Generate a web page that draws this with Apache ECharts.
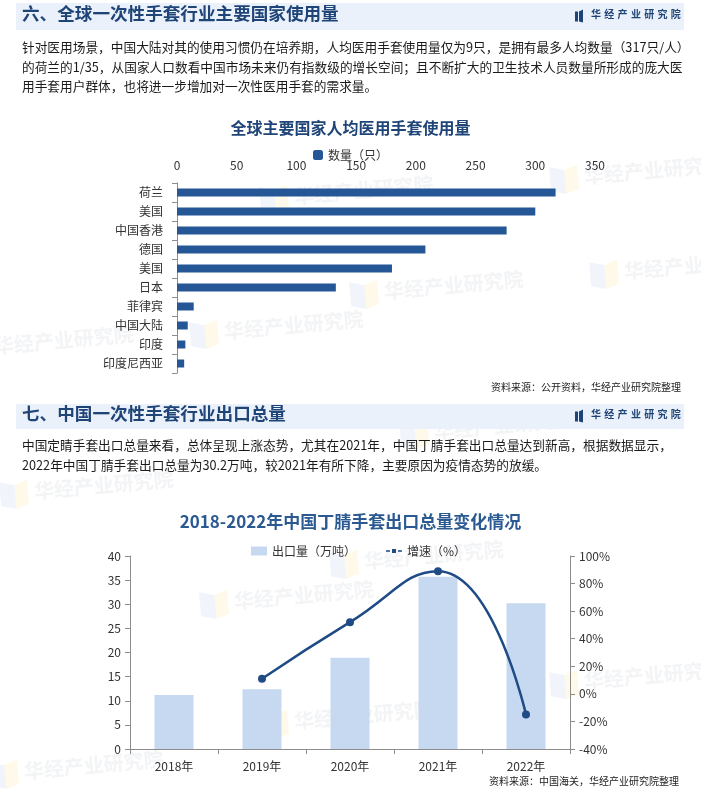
<!DOCTYPE html>
<html>
<head>
<meta charset="utf-8">
<title>手套行业</title>
<script src="https://cdn.jsdelivr.net/npm/echarts@6/dist/echarts.min.js"></script>
<style>
  html, body { margin: 0; padding: 0; background: #fff; }
  #main { width: 701px; height: 790px; }
</style>
</head>
<body>
<div id="main"></div>
<script type="text/javascript">
// 图一：人均医用手套使用量
var countryList = ['荷兰', '美国', '中国香港', '德国', '美国', '日本', '菲律宾', '中国大陆', '印度', '印度尼西亚'];
var gloveNum = [317, 300, 276, 208, 180, 133, 14, 9, 7, 6];

// 图二：丁腈手套出口
var yearList = ['2018年', '2019年', '2020年', '2021年', '2022年'];
var exportVol = [11.2, 12.4, 18.9, 35.7, 30.2];
var growthRate = [null, 11, 52, 89, -15];

var FONT = '"Noto Sans CJK SC", "Noto Sans", sans-serif';
var dark = '#1F4478';
var barColor = '#255696';
var lightBar = '#C6D9F0';
var lineColor = '#1F4B86';
var axisGray = '#8c8c8c';

var para1 = [
  '针对医用场景，中国大陆对其的使用习惯仍在培养期，人均医用手套使用量仅为9只，是拥有最多人均数量（317只/人）',
  '的荷兰的1/35，从国家人口数看中国市场未来仍有指数级的增长空间；且不断扩大的卫生技术人员数量所形成的庞大医',
  '用手套用户群体，也将进一步增加对一次性医用手套的需求量。'
];
var para2 = [
  '中国定睛手套出口总量来看，总体呈现上涨态势，尤其在2021年，中国丁腈手套出口总量达到新高，根据数据显示，',
  '2022年中国丁腈手套出口总量为30.2万吨，较2021年有所下降，主要原因为疫情态势的放缓。'
];

var myChart = echarts.init(document.getElementById('main'));

// 标题栏
function headerBar(y, h, txt) {
  var els = [];
  els.push({ type: 'rect', shape: { x: 16, y: y, width: 668, height: h }, style: { fill: '#EBF1FA' }, z: 1 });
  els.push({ type: 'text', left: 22, top: y + h / 2 - 12, style: { text: txt, font: 'bold 17.6px ' + FONT, fill: dark }, z: 2 });
  // logo
  els.push({ type: 'rect', shape: { x: 575, y: y + h / 2 - 5, width: 3, height: 10 }, style: { fill: dark }, z: 2 });
  els.push({ type: 'polygon', shape: { points: [[579, y + h / 2 - 5], [583, y + h / 2 - 7], [583, y + h / 2 + 6], [579, y + h / 2 + 5]] }, style: { fill: dark }, z: 2 });
  var logo = ['华', '经', '产', '业', '研', '究', '院'];
  for (var i = 0; i < logo.length; i++) {
    els.push({ type: 'text', left: 591 + i * 13.3, top: y + h / 2 - 7, style: { text: logo[i], font: 'bold 10px ' + FONT, fill: dark }, z: 2 });
  }
  return els;
}

// 段落
function paragraph(lines, y0, gap) {
  var els = [];
  for (var i = 0; i < lines.length; i++) {
    els.push({ type: 'text', left: 22, top: y0 + i * gap, style: { text: lines[i], font: '12.7px ' + FONT, fill: '#1a1a1a' }, z: 2 });
  }
  return els;
}

// 水印
var wmPos = [[330, 195], [620, 175], [260, 330], [420, 290], [30, 345], [660, 270], [470, 430], [70, 490],
  [400, 560], [270, 600], [620, 680], [330, 720], [60, 770]];
var wm = [];
for (var w = 0; w < wmPos.length; w++) {
  wm.push({
    type: 'group', x: wmPos[w][0], y: wmPos[w][1], rotation: 0.09, z: 0,
    children: [
      { type: 'polygon', shape: { points: [[-70, -14], [-55, -10], [-55, 14], [-70, 10]] }, style: { fill: '#dbe6f5', opacity: 0.4 } },
      { type: 'polygon', shape: { points: [[-55, -10], [-42, -14], [-42, 10], [-55, 14]] }, style: { fill: '#fdf1c8', opacity: 0.4 } },
      { type: 'text', x: -36, y: -12, style: { text: '华经产业研究院', font: 'bold 20px ' + FONT, fill: '#e8eaee', opacity: 0.5 } }
    ]
  });
}

var graphics = [].concat(
  wm,
  headerBar(3, 27, '六、全球一次性手套行业主要国家使用量'),
  paragraph(para1, 41, 19.5),
  headerBar(404, 25, '七、中国一次性手套行业出口总量'),
  paragraph(para2, 439, 19.5),
  [
    { type: 'text', right: 20, top: 382, style: { text: '资料来源：公开资料，华经产业研究院整理', font: '10px ' + FONT, fill: '#222' }, z: 2 },
    { type: 'text', right: 22, top: 776, style: { text: '资料来源：中国海关，华经产业研究院整理', font: '10px ' + FONT, fill: '#222' }, z: 2 }
  ]
);

var option = {
  animation: false,
  textStyle: { fontFamily: FONT },
  title: [{
    text: '全球主要国家人均医用手套使用量',
    left: 'center', top: 115,
    textStyle: { fontSize: 16, fontWeight: 'bold', color: dark, fontFamily: FONT }
  }, {
    text: '2018-2022年中国丁腈手套出口总量变化情况',
    left: 'center', top: 508,
    textStyle: { fontSize: 17, fontWeight: 'bold', color: '#2B5A92', fontFamily: FONT }
  }],
  legend: [{
    data: ['数量（只）'],
    left: 'center', top: 144,
    itemWidth: 10, itemHeight: 10, itemGap: 6,
    textStyle: { fontSize: 12, color: '#333', fontFamily: FONT }
  }, {
    data: [
      { name: '出口量（万吨）', icon: 'rect' },
      { name: '增速（%）', icon: 'path://M0,4H5V6H0Z M7.5,2.5H12.5V7.5H7.5Z M15,4H20V6H15Z' }
    ],
    left: 246, top: 540,
    itemWidth: 16, itemHeight: 9, itemGap: 30,
    textStyle: { fontSize: 12, color: '#333', fontFamily: FONT }
  }],
  grid: [
    { left: 177, width: 418, top: 183, height: 190 },
    { left: 130, width: 440, top: 556, height: 193 }
  ],
  xAxis: [{
    gridIndex: 0, type: 'value', position: 'top',
    min: 0, max: 350, interval: 50,
    axisLine: { show: false }, axisTick: { show: false }, splitLine: { show: false },
    axisLabel: { color: '#333', fontSize: 12, margin: 12 }
  }, {
    gridIndex: 1, type: 'category', data: yearList,
    axisLine: { lineStyle: { color: axisGray } },
    axisTick: { show: true, length: 5, lineStyle: { color: axisGray } },
    axisLabel: { color: '#333', fontSize: 12, margin: 11 }
  }],
  yAxis: [{
    gridIndex: 0, type: 'category', data: countryList, inverse: true,
    axisLine: { lineStyle: { color: axisGray } },
    axisTick: { show: true, length: 5, lineStyle: { color: axisGray } },
    axisLabel: { color: '#333', fontSize: 12, margin: 14 }
  }, {
    gridIndex: 1, type: 'value', min: 0, max: 40, interval: 5,
    axisLine: { show: true, lineStyle: { color: axisGray } },
    axisTick: { show: true, length: 5, lineStyle: { color: axisGray } },
    splitLine: { show: false },
    axisLabel: { color: '#333', fontSize: 12, margin: 9 }
  }, {
    gridIndex: 1, type: 'value', position: 'right', min: -40, max: 100, interval: 20,
    axisLine: { show: true, lineStyle: { color: axisGray } },
    axisTick: { show: true, length: 5, lineStyle: { color: axisGray } },
    splitLine: { show: false },
    axisLabel: { color: '#333', fontSize: 12, margin: 9, formatter: '{value}%' }
  }],
  series: [{
    name: '数量（只）', type: 'bar',
    xAxisIndex: 0, yAxisIndex: 0,
    data: gloveNum, barWidth: 8,
    itemStyle: { color: barColor }
  }, {
    name: '出口量（万吨）', type: 'bar',
    xAxisIndex: 1, yAxisIndex: 1,
    data: exportVol, barWidth: 39,
    itemStyle: { color: lightBar }
  }, {
    name: '增速（%）', type: 'line',
    xAxisIndex: 1, yAxisIndex: 2,
    data: growthRate, smooth: 0.5,
    symbol: 'circle', symbolSize: 8,
    lineStyle: { color: lineColor, width: 2.5 },
    itemStyle: { color: lineColor }
  }],
  graphic: graphics
};

myChart.setOption(option);
</script>
</body>
</html>
